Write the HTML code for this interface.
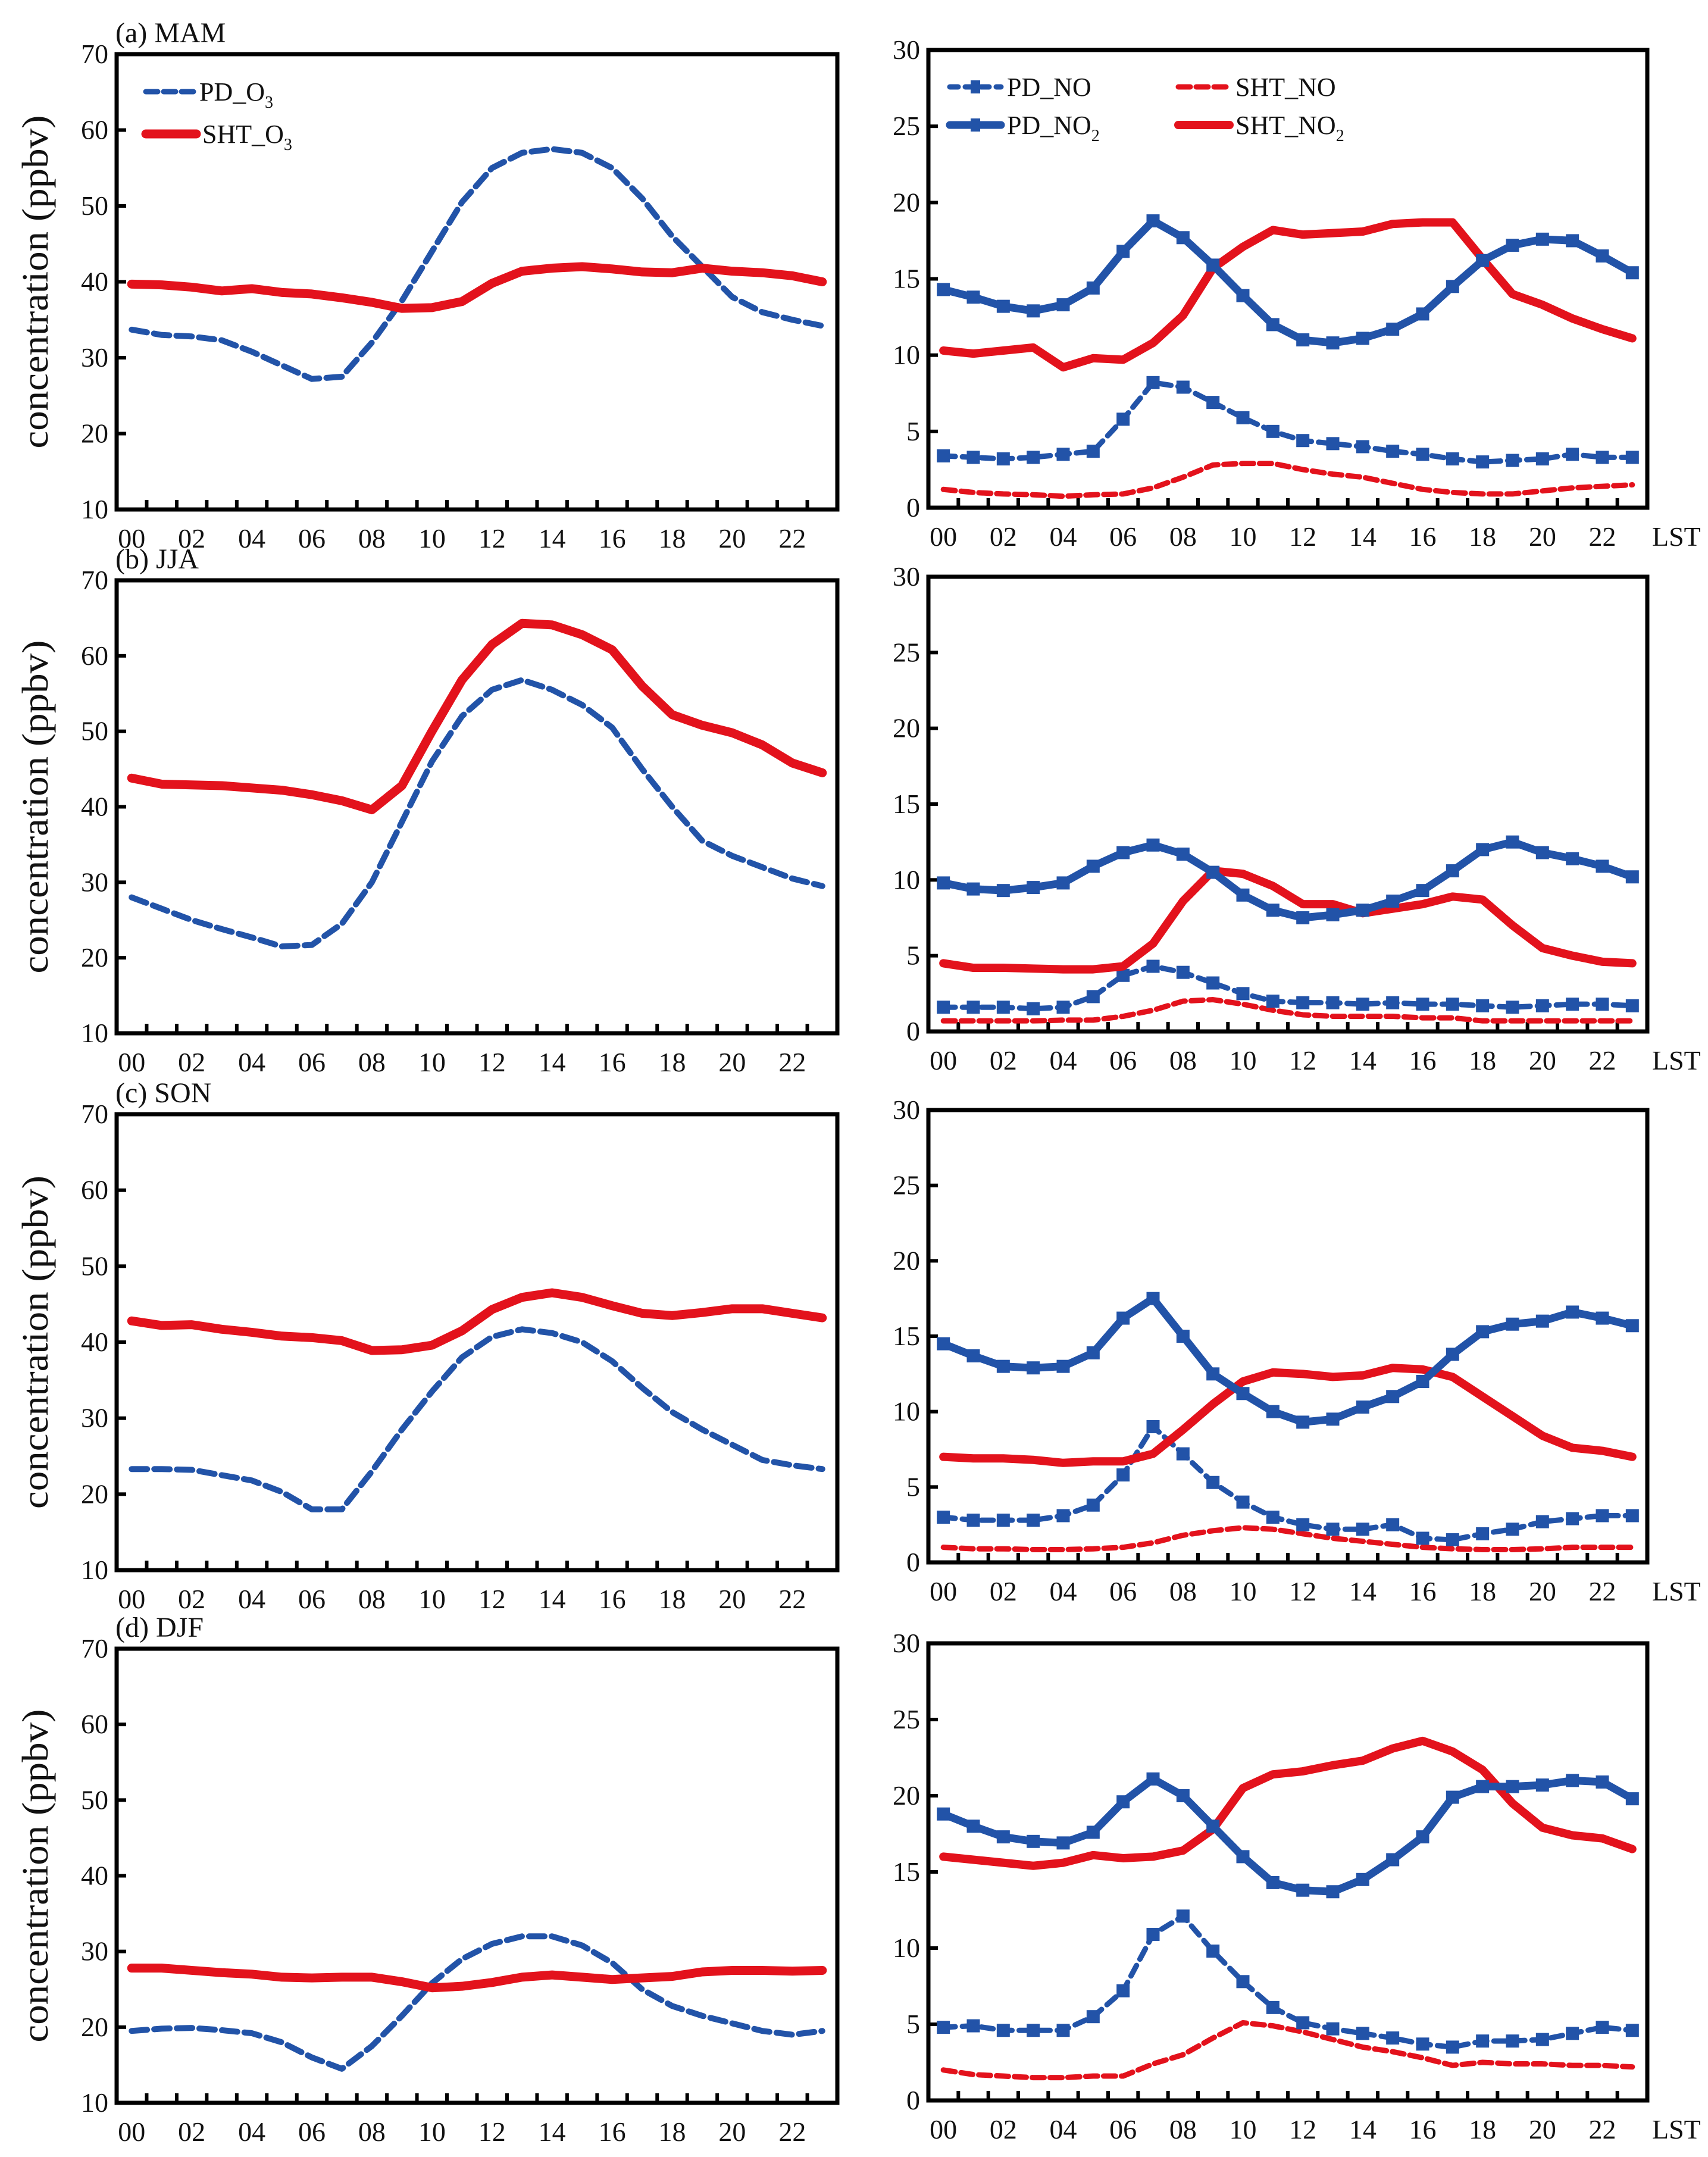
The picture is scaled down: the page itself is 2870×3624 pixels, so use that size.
<!DOCTYPE html>
<html><head><meta charset="utf-8">
<style>
html,body{margin:0;padding:0;background:#fff;}
svg{display:block;}
text{font-family:"Liberation Serif",serif;fill:#111;}
</style></head>
<body>
<svg id="fig" width="2870" height="3624" viewBox="0 0 2870 3624" xmlns="http://www.w3.org/2000/svg"></svg>
<script>
// ---- data ----
const hours = [0,1,2,3,4,5,6,7,8,9,10,11,12,13,14,15,16,17,18,19,20,21,22,23];
const xTickLabels = ["00","02","04","06","08","10","12","14","16","18","20","22"];
const o3TickValues = [10,20,30,40,50,60,70];
const noxTickValues = [0,5,10,15,20,25,30];
const seasons = ["(a) MAM","(b) JJA","(c) SON","(d) DJF"];

const mamPDO3  = [33.7,33,32.8,32.3,30.8,29,27.2,27.5,32,37.5,44,50.5,55,57,57.5,57,55,51,46,42,38,36,35,34.2];
const mamSHTO3 = [39.7,39.6,39.3,38.8,39.1,38.6,38.4,37.9,37.3,36.5,36.6,37.4,39.8,41.4,41.8,42,41.7,41.3,41.2,41.8,41.4,41.2,40.8,40];
const jjaPDO3  = [28,26.5,25,23.8,22.7,21.5,21.7,24.5,30,38,46,52,55.5,56.8,55.5,53.5,50.5,45,40,35.5,33.5,32,30.5,29.5];
const jjaSHTO3 = [43.8,43,42.9,42.8,42.5,42.2,41.6,40.8,39.6,42.8,50,56.8,61.5,64.3,64.1,62.8,60.8,56,52.2,50.8,49.8,48.2,45.8,44.5];
const sonPDO3  = [23.3,23.3,23.2,22.5,21.8,20.3,18,18,23,28.5,33.5,38,40.7,41.7,41.2,40,37.5,34,30.8,28.5,26.5,24.5,23.8,23.3];
const sonSHTO3 = [42.8,42.2,42.3,41.7,41.3,40.8,40.6,40.2,38.9,39,39.6,41.5,44.3,45.9,46.5,45.9,44.8,43.8,43.5,43.9,44.4,44.4,43.8,43.2];
const djfPDO3  = [19.5,19.8,19.9,19.6,19.2,18,16,14.5,17.5,21.5,25.8,29,31,32,32,30.8,28.5,25,22.8,21.5,20.5,19.5,19,19.5];
const djfSHTO3 = [27.8,27.8,27.5,27.2,27,26.6,26.5,26.6,26.6,26,25.2,25.4,25.9,26.6,26.9,26.6,26.3,26.5,26.7,27.3,27.5,27.5,27.4,27.5];

const mamPDNO   = [3.4,3.3,3.2,3.3,3.5,3.7,5.8,8.2,7.9,6.9,5.9,5.0,4.4,4.2,4.0,3.7,3.5,3.2,3.0,3.1,3.2,3.5,3.3,3.3];
const mamPDNO2  = [14.3,13.8,13.2,12.9,13.3,14.4,16.8,18.8,17.7,15.9,13.9,12.0,11.0,10.8,11.1,11.7,12.7,14.5,16.2,17.2,17.6,17.5,16.5,15.4];
const mamSHTNO  = [1.2,1.0,0.9,0.85,0.75,0.85,0.9,1.3,2.0,2.8,2.9,2.9,2.5,2.2,2.0,1.6,1.2,1.0,0.9,0.9,1.1,1.3,1.4,1.5];
const mamSHTNO2 = [10.3,10.1,10.3,10.5,9.2,9.8,9.7,10.8,12.6,15.7,17.1,18.2,17.9,18.0,18.1,18.6,18.7,18.7,16.3,14.0,13.3,12.4,11.7,11.1];
const jjaPDNO   = [1.6,1.6,1.6,1.5,1.6,2.3,3.7,4.3,3.9,3.2,2.5,2.0,1.9,1.9,1.8,1.9,1.8,1.8,1.7,1.6,1.7,1.8,1.8,1.7];
const jjaPDNO2  = [9.8,9.4,9.3,9.5,9.8,10.9,11.8,12.3,11.7,10.5,9.0,8.0,7.5,7.7,8.0,8.6,9.3,10.6,12.0,12.5,11.8,11.4,10.9,10.2];
const jjaSHTNO  = [0.7,0.7,0.7,0.7,0.75,0.75,1.0,1.4,2.0,2.1,1.8,1.4,1.1,1.0,1.0,1.0,0.9,0.9,0.7,0.7,0.7,0.7,0.7,0.7];
const jjaSHTNO2 = [4.5,4.2,4.2,4.15,4.1,4.1,4.3,5.8,8.6,10.6,10.4,9.6,8.4,8.4,7.8,8.1,8.4,8.9,8.7,7.0,5.5,5.0,4.6,4.5];
const sonPDNO   = [3.0,2.8,2.8,2.8,3.1,3.8,5.8,9.0,7.2,5.3,4.0,3.0,2.5,2.2,2.2,2.5,1.6,1.5,1.9,2.2,2.7,2.9,3.1,3.1];
const sonPDNO2  = [14.5,13.7,13.0,12.9,13.0,13.9,16.2,17.5,15.0,12.5,11.2,10.0,9.3,9.5,10.3,11.0,12.0,13.8,15.3,15.8,16.0,16.6,16.2,15.7];
const sonSHTNO  = [1.0,0.9,0.9,0.85,0.85,0.9,1.0,1.3,1.8,2.1,2.3,2.2,1.9,1.6,1.4,1.2,1.0,0.9,0.85,0.85,0.9,1.0,1.0,1.0];
const sonSHTNO2 = [7.0,6.9,6.9,6.8,6.6,6.7,6.7,7.2,8.8,10.5,12.0,12.6,12.5,12.3,12.4,12.9,12.8,12.3,11.0,9.7,8.4,7.6,7.4,7.0];
const djfPDNO   = [4.8,4.9,4.6,4.6,4.6,5.5,7.2,10.9,12.1,9.8,7.8,6.1,5.1,4.7,4.4,4.1,3.7,3.5,3.9,3.9,4.0,4.4,4.8,4.6];
const djfPDNO2  = [18.8,18.0,17.3,17.0,16.9,17.6,19.6,21.1,20.0,18.0,16.0,14.3,13.8,13.7,14.5,15.8,17.3,19.9,20.6,20.6,20.7,21.0,20.9,19.8];
const djfSHTNO  = [2.0,1.7,1.6,1.5,1.5,1.6,1.6,2.4,3.0,4.1,5.1,4.9,4.5,4.0,3.5,3.2,2.8,2.3,2.5,2.4,2.4,2.3,2.3,2.2];
const djfSHTNO2 = [16.0,15.8,15.6,15.4,15.6,16.1,15.9,16.0,16.4,17.8,20.5,21.4,21.6,22.0,22.3,23.1,23.6,22.9,21.7,19.5,17.9,17.4,17.2,16.5];

const o3Sets  = [[mamPDO3,mamSHTO3],[jjaPDO3,jjaSHTO3],[sonPDO3,sonSHTO3],[djfPDO3,djfSHTO3]];
const noxSets = [[mamPDNO,mamPDNO2,mamSHTNO,mamSHTNO2],[jjaPDNO,jjaPDNO2,jjaSHTNO,jjaSHTNO2],[sonPDNO,sonPDNO2,sonSHTNO,sonSHTNO2],[djfPDNO,djfPDNO2,djfSHTNO,djfSHTNO2]];

// ---- layout ----
const BLUE="#2253a8", RED="#e3121c";
const L = {x0:196, x1:1407, tops:[91,975,1872,2770], bots:[856,1736,2638,3533]};
const R = {x0:1560, x1:2768, tops:[84,969,1865,2761], bots:[853,1733,2625,3529]};
const NS="http://www.w3.org/2000/svg";
const svg=document.getElementById('fig');
function el(tag,attrs,parent){const e=document.createElementNS(NS,tag);for(const k in attrs)e.setAttribute(k,attrs[k]);(parent||svg).appendChild(e);return e;}

function drawPanel(g,x0,x1,top,bot,ymin,ymax,yTicks,series,left,rowIdx){
  const xs=h=>x0+(h+0.5)*(x1-x0)/24;
  const ys=v=>bot-(v-ymin)/(ymax-ymin)*(bot-top);
  const box=el('rect',{x:x0,y:top,width:x1-x0,height:bot-top,fill:'none',stroke:'#000','stroke-width':7},g);
  
  
  yTicks.forEach(v=>{
    el('line',{x1:x0,x2:x0+16,y1:ys(v),y2:ys(v),stroke:'#000','stroke-width':6},g);
    const t=el('text',{x:x0-14,y:ys(v)+15,'text-anchor':'end','font-size':46},g);
    t.textContent=v;
    
    
  });
  for(let i=1;i<24;i++){const xx=x0+i*(x1-x0)/24;el('line',{x1:xx,x2:xx,y1:bot,y2:bot-16,stroke:'#000','stroke-width':6},g);}
  xTickLabels.forEach((lab,i)=>{
    const t=el('text',{x:xs(i*2),y:bot+64,'text-anchor':'middle','font-size':46},g);
    t.textContent=lab;
    
    
  });
  if(!left){
    const t=el('text',{x:x1+8,y:bot+64,'font-size':46},g);
    t.textContent='LST';
    
    
  }
  series.forEach(s=>{
    const pts=hours.map(h=>xs(h)+','+ys(s.data[h])).join(' ');
    const p=el('polyline',{points:pts,fill:'none',stroke:s.color,'stroke-width':s.w,'stroke-linejoin':'round','stroke-linecap':'round'},g);
    if(s.dash)p.setAttribute('stroke-dasharray',s.dash);
    
    
    if(s.marker){
      hours.forEach(h=>{
        const m=el('rect',{x:xs(h)-11,y:ys(s.data[h])-11,width:22,height:22,fill:s.color},g);
        
        
      });
    }
  });
}

for(let r=0;r<4;r++){
  const gl=el('g',{});
  
  
  drawPanel(gl,L.x0,L.x1,L.tops[r],L.bots[r],10,70,o3TickValues,[
    {name:'pd-o3',data:o3Sets[r][0],color:BLUE,w:10,dash:'26 12'},
    {name:'sht-o3',data:o3Sets[r][1],color:RED,w:15}
  ],true,r);
  const title=el('text',{x:194,y:L.tops[r]-20,'font-size':48},gl);
  title.textContent=seasons[r];
  
  
  const cy=(L.tops[r]+L.bots[r])/2;
  const yt=el('text',{x:0,y:0,'font-size':62,'text-anchor':'middle',textLength:560,lengthAdjust:'spacingAndGlyphs',transform:`translate(80,${cy}) rotate(-90)`},gl);
  yt.textContent='concentration (ppbv)';
  
  

  const gr=el('g',{});
  
  
  drawPanel(gr,R.x0,R.x1,R.tops[r],R.bots[r],0,30,noxTickValues,[
    {name:'sht-no',data:noxSets[r][2],color:RED,w:9,dash:'20 10'},
    {name:'pd-no',data:noxSets[r][0],color:BLUE,w:9,dash:'20 12',marker:true},
    {name:'sht-no2',data:noxSets[r][3],color:RED,w:14},
    {name:'pd-no2',data:noxSets[r][1],color:BLUE,w:13,marker:true}
  ],false,r);
}

function legendEntry(x,y,len,color,w,dash,marker,label,sub,name){
  const g=el('g',{});
  
  
  const ln=el('line',{x1:x,x2:x+len,y1:y,y2:y,stroke:color,'stroke-width':w,'stroke-linecap':'round'},g);
  if(dash)ln.setAttribute('stroke-dasharray',dash);
  if(marker)el('rect',{x:x+len/2-8,y:y-11,width:16,height:22,fill:color},g);
  const t=el('text',{x:x+len+10,y:y+15,'font-size':44},g);
  t.textContent=label;
  if(sub){const ts=el('tspan',{'font-size':28,dy:12},t);ts.textContent=sub;}
}
legendEntry(245,154,80,BLUE,9,'20 10',false,'PD_O','3','legend-pd-o3');
legendEntry(245,225,85,RED,15,null,false,'SHT_O','3','legend-sht-o3');
legendEntry(1596,146,86,BLUE,9,'14 12',true,'PD_NO','','legend-pd-no');
legendEntry(1596,210,86,BLUE,13,null,true,'PD_NO','2','legend-pd-no2');
legendEntry(1980,146,86,RED,9,'20 10',false,'SHT_NO','','legend-sht-no');
legendEntry(1980,210,86,RED,14,null,false,'SHT_NO','2','legend-sht-no2');
</script>
</body></html>
